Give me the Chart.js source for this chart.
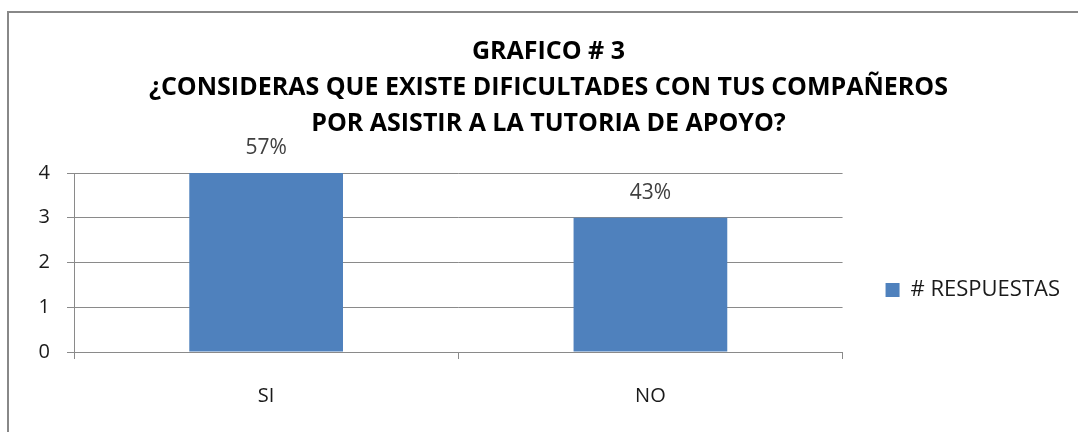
<!DOCTYPE html>
<html>
<head>
<meta charset="utf-8">
<script src="https://cdn.jsdelivr.net/npm/chart.js@4/dist/chart.umd.min.js"></script>
<style>
  body { margin: 0; background: #fff; }
  #wrap { position: relative; width: 1078px; height: 432px; overflow: hidden; }
  #frame { position: absolute; left: 7px; top: 11px; width: 1200px; height: 600px;
           border-left: 2px solid #888; border-top: 2px solid #888; }
  #myChart { position: absolute; left: 0; top: 0; }
</style>
</head>
<body>
<div id="wrap">
  <div id="frame"></div>
  <canvas id="myChart" width="1078" height="432"></canvas>
</div>
<script>
const categories = ['SI', 'NO'];
const respuestas = [4, 3];
const porcentajes = ['57%', '43%'];
const yTicks = [0, 1, 2, 3, 4];
const titleLines = ['GRAFICO # 3', '¿CONSIDERAS QUE EXISTE DIFICULTADES CON TUS COMPAÑEROS', 'POR ASISTIR A LA TUTORIA DE APOYO?'];

const fontFamily = '"Open Sans", "Noto Sans", sans-serif';
const gridColor = '#8a8a8a';

// labels above the bars (57% / 43%)
const barLabels = {
    id: 'barLabels',
    afterDatasetsDraw(chart) {
        const c = chart.ctx;
        const meta = chart.getDatasetMeta(0);
        c.save();
        c.font = '21px ' + fontFamily;
        c.fillStyle = '#404040';
        c.textAlign = 'center';
        c.textBaseline = 'middle';
        meta.data.forEach((bar, i) => {
            c.fillText(porcentajes[i], bar.x, bar.y - 25);
        });
        c.restore();
    }
};

const ctx = document.getElementById('myChart');

new Chart(ctx, {
    type: 'bar',
    data: {
        labels: categories,
        datasets: [{
            label: '# RESPUESTAS',
            data: respuestas,
            backgroundColor: '#4F81BD',
            borderWidth: 0,
            barPercentage: 0.4,
            categoryPercentage: 1.0
        }]
    },
    options: {
        responsive: false,
        animation: false,
        layout: {
            padding: { left: 27, right: 8, top: 0, bottom: 0 }
        },
        plugins: {
            title: {
                display: true,
                text: titleLines,
                color: '#000',
                font: { family: fontFamily, size: 25, weight: 'bold', lineHeight: 36 / 25 },
                padding: { top: 34, bottom: 31 }
            },
            legend: {
                position: 'right',
                align: 'center',
                fullSize: false,
                // empty title only pushes the entry down
                title: {
                    display: true,
                    text: ' ',
                    padding: 0,
                    font: { size: 55, lineHeight: 1 }
                },
                labels: {
                    boxWidth: 14,
                    boxHeight: 14,
                    padding: 43,
                    color: '#1a1a1a',
                    font: { family: fontFamily, size: 22 }
                }
            },
            tooltip: { enabled: false }
        },
        scales: {
            x: {
                offset: true,
                grid: {
                    offset: true,
                    drawOnChartArea: false,
                    drawTicks: true,
                    tickLength: 7,
                    color: gridColor
                },
                border: { color: gridColor },
                ticks: {
                    padding: 25,
                    color: '#1a1a1a',
                    font: { family: fontFamily, size: 20 }
                },
                afterFit(scale) { scale.height = 80; }
            },
            y: {
                min: yTicks[0],
                max: yTicks[yTicks.length - 1],
                grid: {
                    color: gridColor,
                    tickLength: 7
                },
                border: { color: gridColor },
                ticks: {
                    stepSize: 1,
                    padding: 17,
                    color: '#1a1a1a',
                    font: { family: fontFamily, size: 20 }
                },
                afterFit(scale) { scale.width = 47; }
            }
        }
    },
    plugins: [barLabels]
});
</script>
</body>
</html>
